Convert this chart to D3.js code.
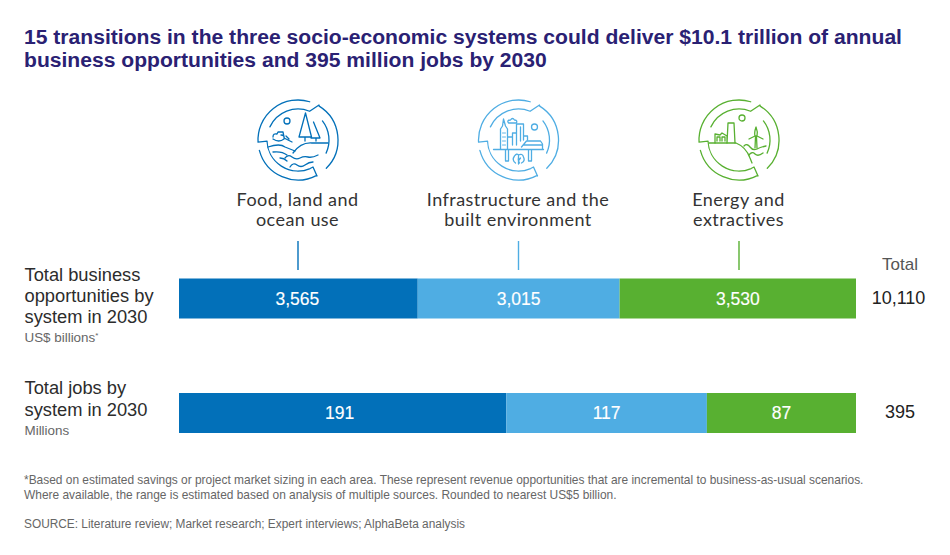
<!DOCTYPE html>
<html><head><meta charset="utf-8">
<script src="https://cdn.jsdelivr.net/npm/d3@7"></script>
<style>html,body{margin:0;padding:0;background:#fff}svg{display:block;font-family:"Liberation Sans",Arial,sans-serif}</style>
</head><body><svg id="c" width="950" height="555"></svg>
<script>
const systems = ["Food, land and ocean use","Infrastructure and the built environment","Energy and extractives"];
const systemLines = [["Food, land and","ocean use"],["Infrastructure and the","built environment"],["Energy and","extractives"]];
const colors = ["#0270b9","#4fade3","#58b031"];
const business = [3565,3015,3530];
const jobs = [191,117,87];
const totals = ["10,110","395"];
const titleLines = ["15 transitions in the three socio-economic systems could deliver $10.1 trillion of annual","business opportunities and 395 million jobs by 2030"];
const noteLines = ["*Based on estimated savings or project market sizing in each area. These represent revenue opportunities that are incremental to business-as-usual scenarios.","Where available, the range is estimated based on analysis of multiple sources. Rounded to nearest US$5 billion."];
const source = "SOURCE: Literature review; Market research; Expert interviews; AlphaBeta analysis";

const svg = d3.select("#c");
const fmt = d3.format(",");

titleLines.forEach((t,i)=>svg.append("text").attr("x",24).attr("y",43.5+i*23.5).attr("font-size",21.1).attr("font-weight",700).attr("fill","#2a2173").text(t));

function drawBars(vals,y0,y1,firstNudge){
  const sum = d3.sum(vals);
  const x = d3.scaleLinear().domain([0,sum]).range([179,856]);
  let acc = 0;
  vals.forEach((v,i)=>{
    const a=acc,b=acc+v; acc=b;
    svg.append("rect").attr("x",x(a)).attr("y",y0).attr("width",x(b)-x(a)).attr("height",y1-y0).attr("fill",colors[i]);
    svg.append("text").attr("x",x((a+b)/2)+(i===0?firstNudge:0)).attr("y",(y0+y1)/2+6).attr("text-anchor","middle").attr("font-size",17.5).attr("stroke","#fff").attr("stroke-width",0.15).attr("fill","#fff").text(fmt(v));
  });
}
drawBars(business,278.5,318.5,-1);
drawBars(jobs,393,433,-3);

svg.append("text").attr("x",882).attr("y",270).attr("font-size",17).attr("fill","#555").text("Total");
svg.append("text").attr("x",898.5).attr("y",304).attr("text-anchor","middle").attr("font-size",18).attr("fill","#222").text(totals[0]);
svg.append("text").attr("x",900).attr("y",418).attr("text-anchor","middle").attr("font-size",18).attr("fill","#222").text(totals[1]);

[["Total business",280.7],["opportunities by",301.7],["system in 2030",323.2],["Total jobs by",394.3],["system in 2030",415.8]].forEach(d=>
  svg.append("text").attr("x",24.5).attr("y",d[1]).attr("font-size",18.3).attr("fill","#2c2c2c").text(d[0]));
const sub = svg.append("text").attr("x",24.5).attr("y",342).attr("font-size",13.4).attr("fill","#666").text("US$ billions");
sub.append("tspan").attr("font-size",8).attr("dy",-4).text("*");
svg.append("text").attr("x",24.5).attr("y",435).attr("font-size",13.4).attr("fill","#666").text("Millions");

noteLines.forEach((t,i)=>svg.append("text").attr("x",24).attr("y",484+i*15).attr("font-size",11.93).attr("fill","#666").text(t));
svg.append("text").attr("x",24).attr("y",528).attr("font-size",11.87).attr("fill","#666").text(source);

// polar arc helpers: degrees clockwise from north
const rad = a=>(a-90)*Math.PI/180;
function arcTo(p,r,a0,a1){ p.arc(0,0,r,rad(a0),rad(a1),a1<a0); }
function ring(g){
  const R=40,r=31;
  const p=d3.path();
  p.moveTo(R*Math.cos(rad(17)),R*Math.sin(rad(17)));
  arcTo(p,R,17,-93);
  arcTo(p,r,-92,-203);
  p.lineTo(15,27); p.lineTo(19,36);
  arcTo(p,R,152,255);
  g.append("path").attr("d",p.toString());
  const q=d3.path();
  q.moveTo(r*Math.cos(rad(-65)),r*Math.sin(rad(-65)));
  arcTo(q,r,-65,22);
  q.lineTo(21,-35);
  arcTo(q,R,32,135);
  g.append("path").attr("d",q.toString());
  const s=d3.path();
  s.moveTo(r*Math.cos(rad(52)),r*Math.sin(rad(52)));
  arcTo(s,r,52,115);
  g.append("path").attr("d",s.toString());
}
function drawFood(g){
  g.append("circle").attr("cx",-11).attr("cy",-19).attr("r",3);
  g.append("path").attr("d","M7.5,-27L1,-3H13.5ZM15.5,-18L22,-2H13M7,-3V1M18,-2V1");
  g.append("path").attr("d","M-25,-3Q-25,-7 -21,-6L-20,-8H-15L-14,-3M-25,-1Q-19,3 -14,-1Q-13,-5 -17,-5M-14,-2L-6,2M-12,-4L-9,-1");
  g.append("path").attr("d","M-30,7Q-18,3 -13,7L-3,11M-25,12Q-16,11 -11,15M-18,18Q-14,18 -11,21");
  g.append("path").attr("d","M-5,13Q3,2 14,3Q22,3 30,3");
  g.append("path").attr("d","M-13,18Q-10,14 -6,17T2,18T10,17T20,15M-8,27Q-5,22 -1,25T7,25T15,22");
}
function drawCity(g){
  g.append("path").attr("d","M-18,9V-11L-16,-14L-15,-21L-13,-14L-11,-11V9M-11,5V-3H-6V5M-6,5V-7H-2V5M-2,5V-16H5V0M2,-13V1M5,-4H9V0");
  g.append("path").attr("d","M3,7L8,1H22L24,4V9M5,5H23M-25,9.5H25");
  g.append("path").attr("d","M-10,-17Q-12,-20 -8,-20Q-6,-23 -4,-20Q-1,-20 -2,-17Z");
  g.append("circle").attr("cx",16).attr("cy",-13).attr("r",3);
  g.append("path").attr("d","M-13,10V21H-10V10M10,10V21H13V10");
  g.append("path").attr("d","M-3,23Q-7,20 -4,16Q-2,13 0,15Q4,13 5,17Q7,21 3,23M0,16V24M1,23Q-1,20 0,17M0.5,20L2,18");
  g.append("path").attr("stroke-width",0.9).attr("d","M-16,-7H-13M-16,-3H-13M-16,1H-13M-16,5H-13");
}
function drawEnergy(g){
  g.append("circle").attr("cx",3).attr("cy",-22).attr("r",3);
  g.append("path").attr("d","M-24,3V-6L-19,-5L-17,-7L-12,-4V3M-12,3L-11,-17H-5L-4,3M-22,1V-3H-19V1M-17,1V-3H-14V1");
  g.append("path").attr("d","M-30,3H-3Q7,7 11,18L13,23");
  g.append("path").attr("d","M17,-13Q15,-7 16,-4H18Q19,-8 17,-13ZM16,-4L10,-1M18,-4L24,-1M16.5,-3L16,8M17.5,-3L18,8");
  g.append("path").attr("d","M5,6Q8,3 11,7T18,9T27,6M10,15Q13,11 16,14T24,13");
}

// system columns: connector, label, icon
const cx = [298,518.5,739];
const drawers = [drawFood,drawCity,drawEnergy];
systems.forEach((s,i)=>{
  svg.append("line").attr("x1",cx[i]).attr("x2",cx[i]).attr("y1",241).attr("y2",270).attr("stroke",colors[i]).attr("stroke-width",1.4);
  systemLines[i].forEach((t,j)=>svg.append("text").attr("x",cx[i]-0.5).attr("y",206+j*20).attr("text-anchor","middle").attr("font-size",18).attr("style","font-family:Lato").attr("letter-spacing",0.45).attr("fill","#333").text(t));
  const g = svg.append("g").attr("transform",`translate(${cx[i]},140)`).attr("fill","none").attr("stroke",colors[i]).attr("stroke-width",1.3).attr("stroke-linecap","round").attr("stroke-linejoin","round");
  ring(g);
  drawers[i](g);
});
</script></body></html>
